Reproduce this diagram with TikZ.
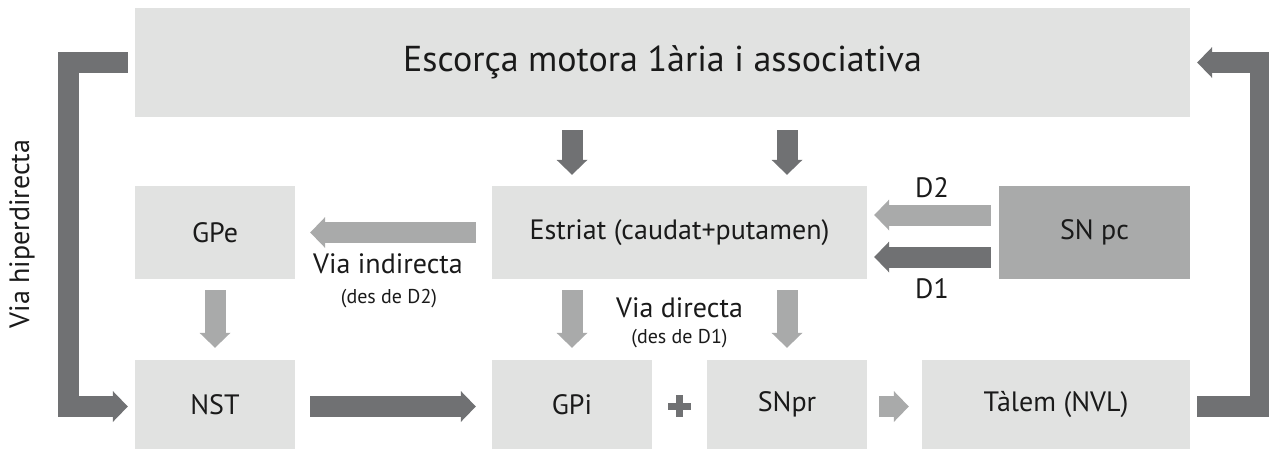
\documentclass[tikz,border=0pt]{standalone}
\usepackage{fontspec}
\setmainfont{PT Sans}
\usetikzlibrary{arrows.meta,calc}
\definecolor{caixa}{HTML}{E1E2E1}
\definecolor{fosc}{HTML}{707173}
\definecolor{clar}{HTML}{A9AAAA}
\definecolor{lletra}{HTML}{1A1A1A}
\begin{document}
\begin{tikzpicture}[x=1pt, y=-1pt, line join=miter,
  caixa/.style={fill=caixa, minimum height=93pt, inner sep=0pt, text=lletra, font=\fontsize{28}{32}\selectfont},
  etiq/.style={text=lletra, inner sep=0pt, font=\fontsize{28}{32}\selectfont},
  petit/.style={text=lletra, inner sep=0pt, font=\fontsize{20}{24}\selectfont},
  fletxaF/.style={draw=fosc, line width=21pt, -{Triangle[length=15pt,width=31pt,line width=0pt]}},
  fletxaC/.style={fletxaF, draw=clar}]
\useasboundingbox (0,0) rectangle (1269,450);
% caixes
\node[caixa, minimum width=1055pt, minimum height=109pt, font=\fontsize{36}{40}\selectfont] (esc) at (662.5,62.5) {Escorça motora 1ària i associativa};
\node[caixa, minimum width=160pt] (gpe) at (215,232.5) {GPe};
\node[caixa, minimum width=375pt] (est) at (679.5,232.5) {Estriat (caudat+putamen)};
\node[caixa, minimum width=191pt, fill=clar] (snpc) at (1094.5,232.5) {SN pc};
\foreach \n/\x/\w/\t in {nst/215/160/NST, gpi/572/160/GPi, snpr/787/160/SNpr, tal/1056/268/Tàlem (NVL)}
  \node[caixa, minimum width=\w pt, minimum height=89pt] (\n) at (\x,404.5) {\t};
% fletxes
\foreach \n in {gpi,snpr}{
  \draw[fletxaF] ($(esc.south -| \n)+(0,13)$) -- ($(est.north -| \n)+(0,-11)$);
  \draw[fletxaC] ($(est.south -| \n)+(0,11)$) -- ($(\n.north)+(0,-12)$);}
\draw[fletxaC] ($(est.west)+(-16,0)$) -- ($(gpe.east)+(15,0)$);
\draw[fletxaC] ($(gpe.south)+(0,11)$) -- ($(nst.north)+(0,-12)$);
\draw[fletxaF] ($(nst.east)+(15,2)$) -- ($(gpi.west)+(-16,2)$);
\draw[fletxaC] ($(snpr.east)+(12,2)$) -- ($(tal.west)+(-13,2)$);
\draw[fletxaC] ($(snpc.west)+(-8,-17.5)$) -- ($(est.east)+(7,-17.5)$);
\draw[fletxaF] ($(snpc.west)+(-8,24.5)$) -- ($(est.east)+(7,24.5)$);
\draw[fletxaF] ($(esc.west)+(-7,0)$) -- ++(-59,0) |- ($(nst.west)+(-7,2)$);
\draw[fletxaF] ($(tal.east)+(7,2)$) -- ++(63,0) |- ($(esc.east)+(7,0)$);
% signe +
\coordinate (mes) at ($(gpi.east)!0.5!(snpr.west)+(0,1.5)$);
\draw[fosc, line width=7pt] ($(mes)+(-11.5,0)$) -- ($(mes)+(11.5,0)$) ($(mes)+(0,-11)$) -- ($(mes)+(0,11)$);
% etiquetes
\node[etiq, anchor=base] (vind) at (388,273) {Via indirecta};
\node[petit, anchor=base] (vindD) at (389,303) {(des de D2)};
\node[etiq, anchor=base] (vdir) at (679.5,317) {Via directa};
\node[petit, anchor=base] (vdirD) at (679.5,343) {(des de D1)};
\node[etiq, anchor=base] (dd2) at (932,197) {D2};
\node[etiq, anchor=base] (dd1) at (932,298) {D1};
\node[etiq, rotate=90] (vhip) at (22,234) {Via hiperdirecta};
\end{tikzpicture}
\end{document}
